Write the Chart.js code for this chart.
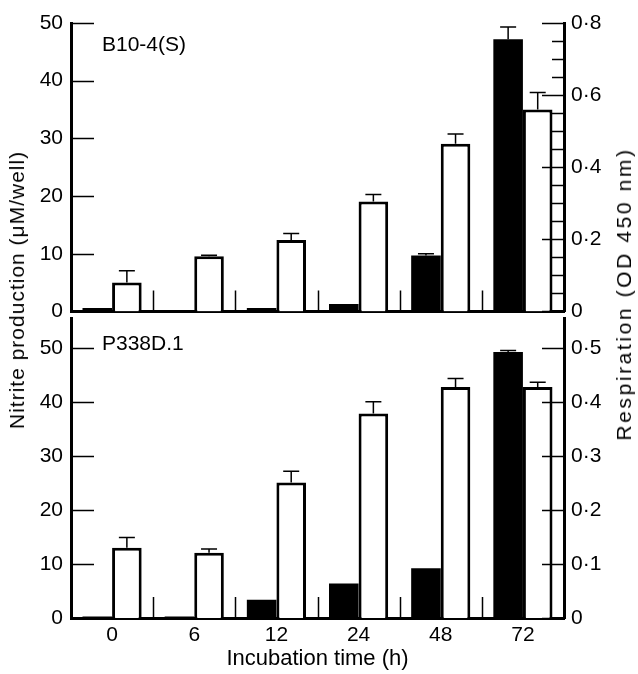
<!DOCTYPE html>
<html>
<head>
<meta charset="utf-8">
<script src="https://cdn.jsdelivr.net/npm/chart.js@4.4.0/dist/chart.umd.min.js"></script>
<style>
  body { margin: 0; background: #fff; }
  #wrap { position: relative; width: 638px; height: 674px; font-family: "Liberation Sans", Arial, sans-serif; }
  canvas { position: absolute; left: 0; }
  #top { top: 0; }
  #bottom { top: 298px; }
  .ytitle { position: absolute; font-size: 21px; white-space: nowrap; color: #000;
            transform: translate(-50%, -50%) rotate(-90deg); }
</style>
</head>
<body>
<div id="wrap">
  <canvas id="top" width="638" height="332"></canvas>
  <canvas id="bottom" width="638" height="376"></canvas>
  <div class="ytitle" style="left:17px; top:290px; letter-spacing:1px;">Nitrite production (&mu;M/well)</div>
  <div class="ytitle" style="left:624px; top:294px; letter-spacing:2.6px;">Respiration (OD 450 nm)</div>
</div>
<script>
// data
const categories = ['0', '6', '12', '24', '48', '72'];

const topNitrite = [0.6, 0.2, 0.6, 1.3, 9.7, 47.2];
const topNitriteErr = [0, 0, 0, 0, 0.3, 2.1];
const topResp = [0.08, 0.153, 0.198, 0.305, 0.465, 0.56];
const topRespErr = [0.033, 0.003, 0.018, 0.019, 0.027, 0.047];

const botNitrite = [0.3, 0.3, 3.4, 6.4, 9.2, 49.3];
const botNitriteErr = [0, 0, 0, 0, 0, 0.3];
const botResp = [0.13, 0.121, 0.251, 0.379, 0.428, 0.428];
const botRespErr = [0.019, 0.007, 0.021, 0.022, 0.016, 0.009];

const nitriteTicks = [0, 10, 20, 30, 40, 50];
const respTicksTop = [0, 0.2, 0.4, 0.6, 0.8];
const respMinorTop = [0.05, 0.1, 0.15, 0.25, 0.3, 0.35, 0.45, 0.5, 0.55, 0.65, 0.7, 0.75];
const respTicksBot = [0, 0.1, 0.2, 0.3, 0.4, 0.5];

const FONT = "'Liberation Sans', Arial, sans-serif";

function respLabel(v) {
    return v === 0 ? '0' : v.toFixed(1).replace('.', '\u00b7');
}

// error bars, inward ticks, category separators, panel label
const decor = {
    id: 'decor',
    afterDatasetsDraw(chart) {
        const ctx = chart.ctx;
        ctx.save();
        ctx.strokeStyle = '#000';
        ctx.lineWidth = 1.5;
        chart.data.datasets.forEach((ds, di) => {
            if (!ds.errors) return;
            const meta = chart.getDatasetMeta(di);
            const yScale = chart.scales[ds.yAxisID];
            meta.data.forEach((bar, i) => {
                const err = ds.errors[i];
                if (!err) return;
                const yTop = yScale.getPixelForValue(ds.data[i] + err);
                ctx.beginPath();
                ctx.moveTo(bar.x, bar.y);
                ctx.lineTo(bar.x, yTop);
                ctx.moveTo(bar.x - 8, yTop);
                ctx.lineTo(bar.x + 8, yTop);
                ctx.stroke();
            });
        });
        ctx.restore();
    },
    afterDraw(chart, args, opts) {
        const ctx = chart.ctx;
        const area = chart.chartArea;
        const x = chart.scales.x;
        const yl = chart.scales.y;
        const yr = chart.scales.y2;
        ctx.save();
        ctx.strokeStyle = '#000';
        ctx.lineWidth = 1.5;
        ctx.beginPath();
        yl.ticks.forEach(t => {
            const p = Math.round(yl.getPixelForValue(t.value)) + 0.5;
            ctx.moveTo(area.left, p);
            ctx.lineTo(area.left + 23, p);
        });
        yr.ticks.forEach(t => {
            const p = Math.round(yr.getPixelForValue(t.value)) + 0.5;
            ctx.moveTo(area.right, p);
            ctx.lineTo(area.right - 22, p);
        });
        (opts.minor || []).forEach(v => {
            const p = Math.round(yr.getPixelForValue(v)) + 0.5;
            ctx.moveTo(area.right, p);
            ctx.lineTo(area.right - 12, p);
        });
        for (let i = 1; i < categories.length; i++) {
            const px = Math.round((x.getPixelForTick(i - 1) + x.getPixelForTick(i)) / 2) + 0.5;
            ctx.moveTo(px, area.bottom);
            ctx.lineTo(px, area.bottom - 21);
        }
        ctx.stroke();
        ctx.fillStyle = '#000';
        ctx.font = '21px ' + FONT;
        ctx.textBaseline = 'middle';
        ctx.fillText(opts.label, area.left + 31, area.top + opts.labelDy);
        ctx.restore();
    }
};

function makeChart(id, nitrite, nitriteErr, resp, respErr, yMax, y2Max, respTicks, opts) {
    return new Chart(document.getElementById(id), {
        type: 'bar',
        data: {
            labels: categories,
            datasets: [{
                data: nitrite,
                errors: nitriteErr,
                yAxisID: 'y',
                backgroundColor: '#000',
                borderWidth: 0,
                barPercentage: 1,
                categoryPercentage: 0.72
            }, {
                data: resp,
                errors: respErr,
                yAxisID: 'y2',
                backgroundColor: '#fff',
                borderColor: '#000',
                borderWidth: 3,
                barPercentage: 1,
                categoryPercentage: 0.72
            }]
        },
        options: {
            responsive: false,
            animation: false,
            devicePixelRatio: 1,
            layout: { padding: { top: opts.padTop, left: 0, right: 0, bottom: 0 } },
            plugins: {
                legend: { display: false },
                tooltip: { enabled: false },
                decor: { label: opts.label, labelDy: opts.labelDy, minor: opts.minor }
            },
            scales: {
                x: {
                    offset: true,
                    grid: { display: false, drawTicks: false },
                    border: { display: true, color: '#000', width: 3 },
                    ticks: { display: opts.showX, color: '#000', padding: 5, font: { family: FONT, size: 21 } },
                    title: {
                        display: opts.showX,
                        text: 'Incubation time (h)',
                        color: '#000',
                        font: { family: FONT, size: 22 },
                        padding: { top: 0, bottom: 2 }
                    },
                    afterFit(scale) { scale.height = opts.xHeight; }
                },
                y: {
                    position: 'left',
                    min: 0,
                    max: yMax,
                    grid: { display: false, drawTicks: false },
                    border: { display: true, color: '#000', width: 3 },
                    ticks: { color: '#000', padding: 8, font: { family: FONT, size: 21 } },
                    afterBuildTicks(scale) { scale.ticks = nitriteTicks.map(v => ({ value: v })); },
                    afterFit(scale) { scale.width = 71; }
                },
                y2: {
                    position: 'right',
                    min: 0,
                    max: y2Max,
                    grid: { display: false, drawTicks: false },
                    border: { display: true, color: '#000', width: 3 },
                    ticks: {
                        color: '#000', padding: 7, font: { family: FONT, size: 21 },
                        callback: v => respLabel(v)
                    },
                    afterBuildTicks(scale) { scale.ticks = respTicks.map(v => ({ value: v })); },
                    afterFit(scale) { scale.width = 74; }
                }
            }
        },
        plugins: [decor]
    });
}

makeChart('top', topNitrite, topNitriteErr, topResp, topRespErr, 50, 0.8, respTicksTop,
    { padTop: 23, showX: false, xHeight: 14, label: 'B10-4(S)', labelDy: 22, minor: respMinorTop });
makeChart('bottom', botNitrite, botNitriteErr, botResp, botRespErr, 55.5, 0.555, respTicksBot,
    { padTop: 20, showX: true, xHeight: 56, label: 'P338D.1', labelDy: 26, minor: [] });
</script>
</body>
</html>
